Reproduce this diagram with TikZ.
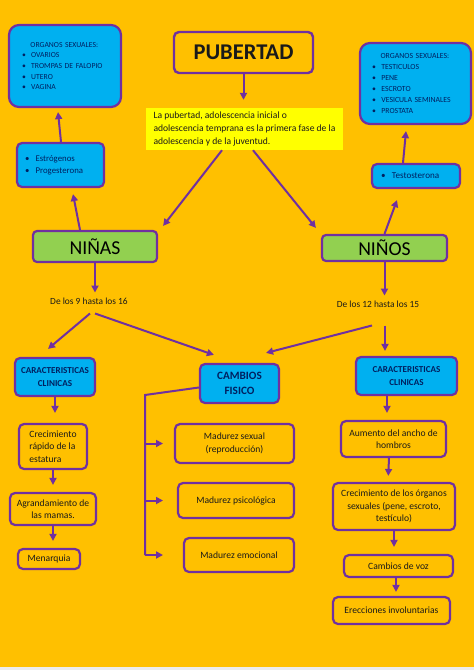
\documentclass[tikz,border=0pt]{standalone}
\usepackage{fontspec}
\setmainfont{Carlito}
\usetikzlibrary{arrows.meta}
\definecolor{fondo}{HTML}{FFC000}
\definecolor{celeste}{HTML}{00B0F0}
\definecolor{verde}{HTML}{92D050}
\definecolor{morado}{HTML}{7030A0}
\definecolor{amarillo}{HTML}{FFFF00}
\definecolor{marino}{HTML}{002060}
\definecolor{tinta}{HTML}{1A1A1A}
\newcommand{\punto}{\makebox[1.2em][l]{\textbullet}}

\begin{document}
\begin{tikzpicture}[x=1pt,y=-1pt,
    >={Triangle[length=7pt,width=7pt]},
    caja/.style={draw=morado, line width=2.2pt, rounded corners=5pt, fill=fondo,
      inner sep=0pt, align=center, text=tinta, font=\fontsize{9.6}{12.5}\selectfont},
    azul/.style={caja, fill=celeste, text=marino},
    titulo/.style={azul, font=\fontsize{9.1}{12.5}\bfseries\selectfont},
    grupo/.style={caja, fill=verde, rounded corners=4pt, text=black,
      font=\fontsize{19.7}{21}\selectfont},
    edad/.style={inner sep=5pt, text=tinta, font=\fontsize{9.4}{11}\selectfont},
    flecha/.style={->, draw=morado, line width=2pt},
    paso/.style={flecha, shorten >=7pt}]
    \fill[fondo] (0,0) rectangle (474,667);
    \fill[gray!15] (0,667) rectangle (474,670);

    \node[caja, line width=2.4pt, minimum width=139pt, minimum height=41pt,
      font=\fontsize{22.5}{25}\bfseries\selectfont] (pubertad) at (243.5,52.5) {PUBERTAD};
    \node[fill=amarillo, minimum width=197pt, minimum height=42pt, inner sep=0pt,
      align=left, text=tinta, font=\fontsize{9.6}{13}\selectfont] (def) at (244.5,129)
      {La pubertad, adolescencia inicial o\\
       adolescencia temprana es la primera fase de la\\
       adolescencia y de la juventud.};

    \node[azul, rounded corners=10pt, minimum width=112pt, minimum height=82pt,
      inner xsep=13pt, text width=86pt, align=left,
      font=\fontsize{7.7}{10.7}\selectfont] (orgnina) at (65,66)
      {\hspace*{1.1em}ORGANOS SEXUALES:\\ \punto OVARIOS\\ \punto TROMPAS DE FALOPIO\\
       \punto UTERO\\ \punto VAGINA};
    \node[azul, minimum width=87pt, minimum height=44pt, inner xsep=8pt,
      text width=71pt, align=left, font=\fontsize{8.8}{12}\selectfont] (hornina) at (60.5,165)
      {\punto Estrógenos\\ \punto Progesterona};
    \node[azul, rounded corners=10pt, minimum width=111pt, minimum height=81pt,
      inner xsep=12pt, text width=87pt, align=left,
      font=\fontsize{7.8}{11}\selectfont] (orgnino) at (415.5,83.5)
      {\hspace*{1.1em}ORGANOS SEXUALES:\\ \punto TESTICULOS\\ \punto PENE\\ \punto ESCROTO\\
       \punto VESICULA SEMINALES\\ \punto PROSTATA};
    \node[azul, minimum width=88pt, minimum height=24pt, inner xsep=9pt,
      text width=70pt, align=left, font=\fontsize{9.1}{12}\selectfont] (hornino) at (416,176)
      {\punto Testosterona};

    \node[grupo, minimum width=124pt, minimum height=31pt] (ninas) at (95,246.5) {NIÑAS};
    \node[grupo, minimum width=125pt, minimum height=26pt] (ninos) at (384.5,248) {NIÑOS};
    \node[edad] (edad9) at (89,301) {De los 9 hasta los 16};
    \node[edad] (edad12) at (378,304) {De los 12 hasta los 15};

    \node[titulo, minimum width=80pt, minimum height=38pt] (clinl) at (55,377)
      {CARACTERISTICAS\\ CLINICAS};
    \node[caja, minimum width=68pt, minimum height=45pt, align=left] (estatura) at (53,446.5)
      {Crecimiento\\ rápido de la\\ estatura};
    \node[caja, minimum width=86pt, minimum height=32pt] (mamas) at (53,509)
      {Agrandamiento de\\ las mamas.};
    \node[caja, minimum width=62pt, minimum height=20pt] (menarquia) at (49,559) {Menarquia};

    \node[titulo, minimum width=79pt, minimum height=39pt,
      font=\fontsize{11.2}{15}\bfseries\selectfont] (cambios) at (239.5,383.5) {CAMBIOS\\ FISICO};
    \node[caja, minimum width=119pt, minimum height=39pt] (sexual) at (234.5,443.5)
      {Madurez sexual\\ (reproducción)};
    \node[caja, minimum width=116pt, minimum height=35pt] (psico) at (236,500.5)
      {Madurez psicológica};
    \node[caja, minimum width=110pt, minimum height=34pt] (emocion) at (239,555)
      {Madurez emocional};

    \node[titulo, minimum width=101pt, minimum height=38pt] (clinr) at (406.5,376)
      {CARACTERISTICAS\\ CLINICAS};
    \node[caja, minimum width=105pt, minimum height=36pt] (hombros) at (393.5,439)
      {Aumento del ancho de\\ hombros};
    \node[caja, minimum width=122pt, minimum height=47pt] (organos) at (394,506.5)
      {Crecimiento de los órganos\\ sexuales (pene, escroto,\\ testículo)};
    \node[caja, minimum width=109pt, minimum height=22pt] (voz) at (398.5,566) {Cambios de voz};
    \node[caja, minimum width=117pt, minimum height=27pt] (erecciones) at (391.5,610.5)
      {Erecciones involuntarias};

    \draw[flecha, shorten >=8pt] (pubertad.south) -- (pubertad.south |- def.north);
    \draw[flecha] ([xshift=-22.5pt]def.south) -- ([xshift=5pt,yshift=4pt]ninas.north east);
    \draw[flecha] ([xshift=8.5pt]def.south) -- ([xshift=-5pt,yshift=6pt]ninos.north west);
    \draw[flecha] ([xshift=-15pt]ninas.north) -- ([xshift=12.5pt,yshift=-6pt]hornina.south);
    \draw[flecha] ([xshift=0.5pt]hornina.north) -- ([xshift=-7pt,yshift=-4pt]orgnina.south);
    \draw[flecha] (ninos.north) -- ([xshift=-19pt,yshift=-11pt]hornino.south);
    \draw[flecha] ([xshift=-13pt]hornino.north) -- ([xshift=-9.5pt,yshift=-6pt]orgnino.south);

    \draw[flecha] (ninas.south) -- (ninas.south |- edad9.north);
    \draw[flecha] ([xshift=1pt,yshift=-4pt]edad9.south) -- ([xshift=-7pt,yshift=8pt]clinl.north);
    \draw[flecha] ([xshift=6pt,yshift=-4pt]edad9.south) -- ([xshift=15pt,yshift=8pt]cambios.north west);
    \draw[flecha] (ninos.south) -- (ninos.south |- edad12.north);
    \draw[flecha] ([xshift=-6pt,yshift=-13pt]edad12.south) -- ([xshift=-14pt,yshift=10pt]cambios.north east);
    \draw[flecha, shorten >=5pt] ([xshift=7pt,yshift=-13pt]edad12.south) -- ([xshift=-21.5pt]clinr.north);

    \draw[paso, shorten >=10pt] (clinl.south) -- (clinl.south |- estatura.north);
    \draw[paso] (estatura.south) -- (estatura.south |- mamas.north);
    \draw[paso] (mamas.south) -- (mamas.south |- menarquia.north);

    \coordinate (esq) at (145,395);
    \draw[morado, line width=2pt] ([yshift=-4pt]cambios.west) -- (esq) -- (esq |- emocion.west);
    \foreach \m in {sexual, psico, emocion}
      \draw[flecha] (esq |- \m.west) -- ++(18,0);

    \draw[paso] ([xshift=-19.5pt]clinr.south) -- ([xshift=-19.5pt]clinr.south |- hombros.north);
    \draw[paso, shorten >=6pt] ([xshift=-4.5pt]hombros.south) -- ([xshift=-5.5pt]hombros.south |- organos.north);
    \draw[paso] (organos.south) -- (organos.south |- voz.north);
    \draw[paso, shorten >=4pt] ([xshift=-2.5pt]voz.south) -- ([xshift=-2.5pt]voz.south |- erecciones.north);
\end{tikzpicture}
\end{document}
